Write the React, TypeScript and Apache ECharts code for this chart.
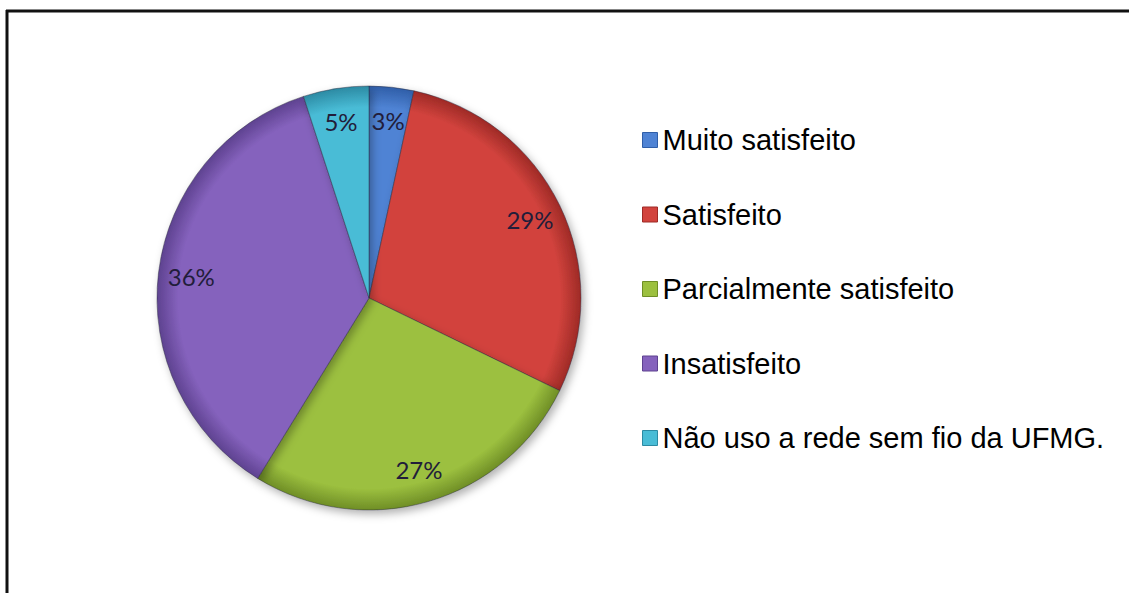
import React, { useEffect, useRef } from "react";
import * as echarts from "echarts";

const categories = [
  "Muito satisfeito",
  "Satisfeito",
  "Parcialmente satisfeito",
  "Insatisfeito",
  "Não uso a rede sem fio da UFMG.",
];
const values = [3.4, 28.8, 26.6, 36.2, 5.0];
const colors = ["#4f83d4", "#d2433d", "#9cc03f", "#8562bd", "#49bcd6"];
const rimColors = ["#2f5ea8", "#9e2a26", "#6f8e26", "#5e4290", "#2c8aa3"];

const CX = 369;
const CY = 298;
const R = 212;

export default function App() {
  const ref = useRef<HTMLDivElement>(null);
  useEffect(() => {
    if (!ref.current) return;
    const chart = echarts.init(ref.current, undefined, { renderer: "svg" });
    const fill = (i: number) => ({
      type: "radial",
      x: CX,
      y: CY,
      r: R,
      global: true,
      colorStops: [
        { offset: 0, color: colors[i] },
        { offset: 0.9, color: colors[i] },
        { offset: 1, color: rimColors[i] },
      ],
    });
    const data = categories.map((name, i) => ({
      name,
      value: values[i],
      itemStyle: { color: fill(i) },
    }));
    chart.setOption({
      animation: false,
      backgroundColor: "#ffffff",
      color: colors,
      legend: {
        orient: "vertical",
        left: 637,
        top: 119,
        itemWidth: 15,
        itemHeight: 15,
        itemGap: 42.5,
        icon: "rect",
        data: categories.map((name, i) => ({
          name,
          itemStyle: { color: colors[i], borderColor: rimColors[i], borderWidth: 1 },
        })),
        textStyle: {
          fontFamily: "Liberation Sans, Arial, sans-serif",
          fontSize: 29,
          lineHeight: 32,
          color: "#000000",
        },
        selectedMode: false,
      },
      series: [
        {
          type: "pie",
          center: [CX, CY],
          radius: [0, R],
          startAngle: 90,
          clockwise: true,
          silent: true,
          label: { show: false },
          labelLine: { show: false },
          itemStyle: {
            borderColor: "rgba(40,40,60,0.45)",
            borderWidth: 1,
            shadowBlur: 8,
            shadowOffsetX: 3,
            shadowOffsetY: 4,
            shadowColor: "rgba(0,0,0,0.3)",
          },
          data,
        },
        {
          type: "pie",
          center: [CX, CY],
          radius: [R * 0.66, R],
          startAngle: 90,
          clockwise: true,
          silent: true,
          itemStyle: { color: "rgba(0,0,0,0)" },
          label: {
            show: true,
            position: "inside",
            formatter: (p: any) => Math.round(p.value) + "%",
            fontFamily: "Lato, sans-serif",
            fontSize: 24,
            color: "#221d3a",
          },
          labelLine: { show: false },
          data: categories.map((name, i) => ({ name, value: values[i] })),
        },
      ],
      graphic: [
        {
          type: "line",
          shape: { x1: 6, y1: 11, x2: 1129, y2: 11 },
          style: { stroke: "#111111", lineWidth: 3 },
        },
        {
          type: "line",
          shape: { x1: 7, y1: 10, x2: 7, y2: 593 },
          style: { stroke: "#111111", lineWidth: 3 },
        },
      ],
    });
    return () => chart.dispose();
  }, []);
  return (
    <div
      ref={ref}
      style={{ position: "fixed", left: 0, top: 0, width: 1129, height: 593, background: "#fff" }}
    />
  );
}
